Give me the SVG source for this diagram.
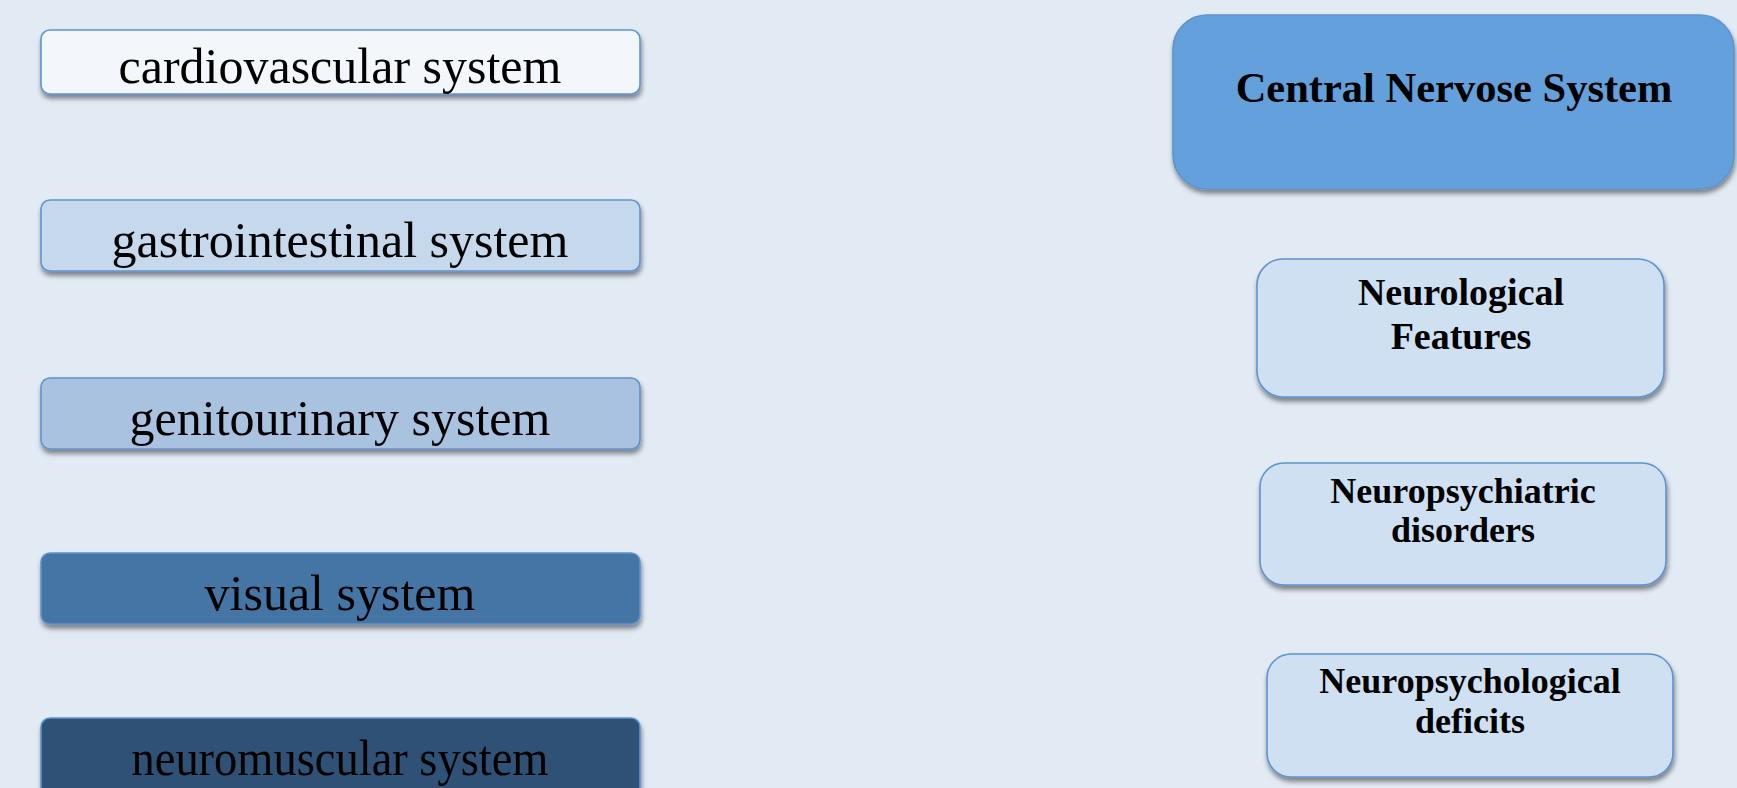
<svg xmlns="http://www.w3.org/2000/svg" width="1737" height="788" viewBox="0 0 1737 788">
  <defs>
    <filter id="shadow" x="-5%" y="-20%" width="110%" height="150%">
      <feGaussianBlur in="SourceAlpha" stdDeviation="2.5"/>
      <feOffset dx="1" dy="4" result="b"/>
      <feComponentTransfer><feFuncA type="linear" slope="0.45"/></feComponentTransfer>
      <feMerge><feMergeNode/><feMergeNode in="SourceGraphic"/></feMerge>
    </filter>
  </defs>
  <style>
    .box { stroke: #5F93CE; stroke-width: 1.6; filter: url(#shadow); }
    .sys { font-family: "Liberation Serif", "Times New Roman", serif; font-size: 50px; fill: #000; text-anchor: middle; }
    .cns { font-family: "Liberation Serif", "Times New Roman", serif; font-weight: bold; fill: #000; text-anchor: middle; }
  </style>

  <rect x="0" y="0" width="1737" height="788" fill="#E2EAF4"/>

  <g id="connectors"></g>

  <!-- body systems column -->
  <g id="cardiovascular">
    <rect class="box" x="41" y="30" width="599" height="64" rx="9" fill="#F3F6FB"/>
    <text class="sys" x="340" y="83">cardiovascular system</text>
  </g>
  <g id="gastrointestinal">
    <rect class="box" x="41" y="200" width="599" height="71" rx="9" fill="#C5D8EC"/>
    <text class="sys" x="340" y="257">gastrointestinal system</text>
  </g>
  <g id="genitourinary">
    <rect class="box" x="41" y="378" width="599" height="71" rx="9" fill="#A8C2E0"/>
    <text class="sys" x="340" y="435">genitourinary system</text>
  </g>
  <g id="visual">
    <rect class="box" x="41" y="553" width="599" height="71" rx="9" fill="#4574A5"/>
    <text class="sys" x="340" y="610">visual system</text>
  </g>
  <g id="neuromuscular">
    <rect class="box" x="41" y="718" width="599" height="90" rx="9" fill="#2F5174"/>
    <text class="sys" x="340" y="775" textLength="417" lengthAdjust="spacingAndGlyphs">neuromuscular system</text>
  </g>

  <!-- central nervous system column -->
  <g id="cns">
    <rect class="box" x="1173" y="15" width="561" height="174" rx="34" fill="#64A0DC"/>
    <text class="cns" x="1454" y="102" font-size="42.5">Central Nervose System</text>
  </g>
  <g id="neurological">
    <rect class="box" x="1257" y="259" width="407" height="138" rx="26" fill="#CFE0F2"/>
    <text class="cns" x="1461" y="305" font-size="38">Neurological</text>
    <text class="cns" x="1461" y="349" font-size="38">Features</text>
  </g>
  <g id="neuropsychiatric">
    <rect class="box" x="1260" y="463" width="406" height="122" rx="24" fill="#CFE0F2"/>
    <text class="cns" x="1463" y="503" font-size="36">Neuropsychiatric</text>
    <text class="cns" x="1463" y="542" font-size="36">disorders</text>
  </g>
  <g id="neuropsychological">
    <rect class="box" x="1267" y="654" width="406" height="123" rx="24" fill="#CFE0F2"/>
    <text class="cns" x="1470" y="693" font-size="36">Neuropsychological</text>
    <text class="cns" x="1470" y="733" font-size="36">deficits</text>
  </g>
</svg>
